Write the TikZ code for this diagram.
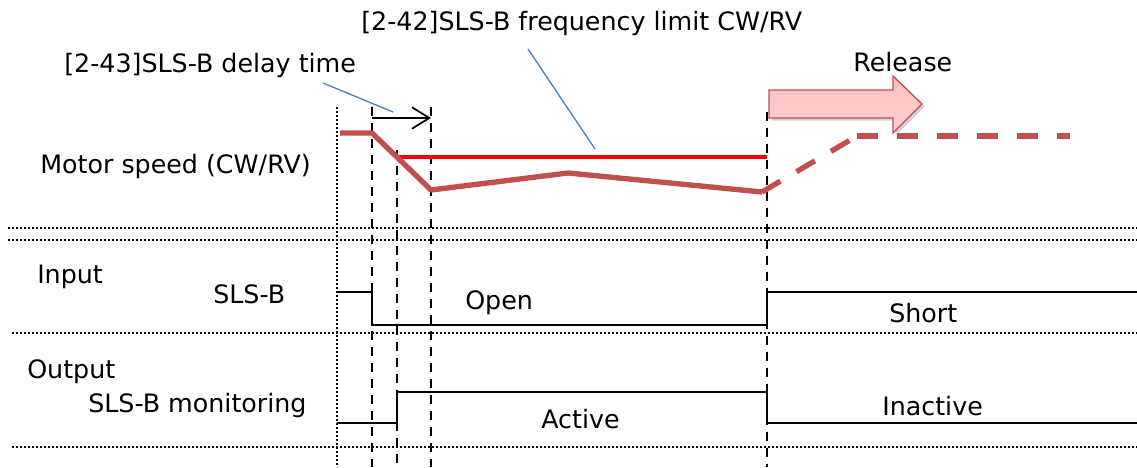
\documentclass[tikz,border=0pt]{standalone}
\usepackage{fontspec}
\setmainfont{DejaVu Sans}
\usetikzlibrary{shadows,arrows.meta}
\definecolor{speed}{HTML}{C0504D}
\definecolor{lead}{HTML}{4F81BD}
\tikzset{
  lbl/.style={anchor=base west, inner sep=0pt, font=\fontsize{19}{23}\selectfont},
  grid/.style={line width=1.4pt, dash pattern=on 1.4pt off 1.6pt},
  mark line/.style={line width=1.3pt, dash pattern=on 7pt off 5pt},
  sig/.style={line width=1.2pt},
  speedline/.style={speed, line width=4pt, line join=round},
  speeddash/.style={speed, line width=4pt, dash pattern=on 16pt off 14pt},
  limit/.style={red, line width=2.5pt},
  leader/.style={lead, line width=1pt},
}
\begin{document}
\begin{tikzpicture}[x=0.75pt,y=-0.75pt]
\useasboundingbox (0,0) rectangle (1137,467);
% horizontal grid lines
\draw[grid] (8,228) -- (1137,228);
\draw[grid] (8,240) -- (1137,240);
\draw[grid] (12,333) -- (1137,333);
\draw[grid] (12,447) -- (1137,447);
% vertical marks
\draw[grid] (337,107) -- (337,467);
\draw[mark line] (372,107) -- (372,467);
\draw[mark line] (397,150) -- (397,467);
\draw[mark line] (431,107) -- (431,467);
\draw[mark line] (767,112) -- (767,467);
% delay arrow
\coordinate (d0) at (372,118);
\coordinate (d1) at (431,118);
\draw[line width=1.2pt, -{Straight Barb[length=13pt,width=16pt,line width=1.3pt]}] (d0) -- (d1);
% frequency limit
\coordinate (l0) at (395,157);
\coordinate (l1) at (767,157);
\draw[limit] (l0) -- (l1);
% motor speed
\draw[speedline] (340,133) -- (372,133) -- (431,190) -- (568,173) -- (762,192);
\draw[speeddash] (762,192) -- (857,136);
\draw[speeddash] (857,136) -- (1070,136);
% release arrow
\draw[speed, line width=1pt, top color=red!25, bottom color=red!18!white, drop shadow={opacity=0.35, shadow xshift=2pt, shadow yshift=-2pt}]
  (769,90) -- (893,90) -- (893,76) -- (922,104) -- (893,133) -- (893,118) -- (769,118) -- cycle;
% input signal
\draw[sig] (337,292) -- (372,292) -- (372,325) -- (767,325) -- (767,292) -- (1137,292);
% output signal
\draw[sig] (337,423) -- (397,423) -- (397,392) -- (767,392) -- (767,423) -- (1137,423);
% labels
\node[lbl] (t42) at (361,31) {[2-42]SLS-B frequency limit CW/RV};
\node[lbl] (t43) at (64,73) {[2-43]SLS-B delay time};
\node[lbl] (rel) at (853,71) {Release};
\node[lbl] (ms) at (40,173) {Motor speed (CW/RV)};
\node[lbl] (inp) at (37,283) {Input};
\node[lbl] (slsb) at (213,303) {SLS-B};
\node[lbl] (open) at (465,309) {Open};
\node[lbl] (short) at (889,322) {Short};
\node[lbl] (outp) at (27,378) {Output};
\node[lbl] (mon) at (88,412) {SLS-B monitoring};
\node[lbl] (act) at (541,428) {Active};
\node[lbl] (inact) at (882,415) {Inactive};
% leaders
\coordinate (a43) at (323,83);
\coordinate (b43) at (393,112);
\coordinate (a42) at (528,49);
\coordinate (b42) at (595,149);
\draw[leader] (a43) -- (b43);
\draw[leader] (a42) -- (b42);
\end{tikzpicture}
\end{document}
